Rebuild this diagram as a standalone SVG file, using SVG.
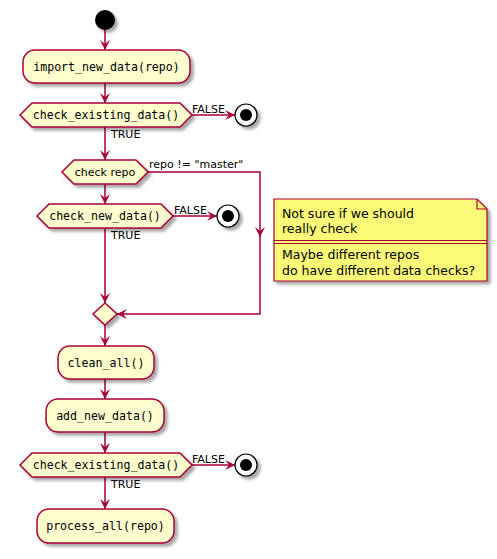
<svg xmlns="http://www.w3.org/2000/svg" width="497" height="559" viewBox="0 0 497 559">
<defs>
<filter id="sh" x="-20%" y="-20%" width="150%" height="160%"><feDropShadow dx="3" dy="3" stdDeviation="1.6" flood-color="#000" flood-opacity="0.35"/></filter>
<marker id="ah" markerUnits="userSpaceOnUse" markerWidth="12" markerHeight="12" refX="10" refY="5" orient="auto"><path d="M0,0 L10,5 L0,10 L4,5 Z" fill="#A80036"/></marker>
</defs>
<style>
.n{fill:#FEFECE;stroke:#A80036;stroke-width:1.5;filter:url(#sh)}
.m{font-family:"DejaVu Sans Mono",monospace;font-size:11.6px;fill:#000;text-anchor:middle}
.s{font-family:"DejaVu Sans",sans-serif;font-size:11px;fill:#000}
.c{fill:none;stroke:#A80036;stroke-width:1.5}
.nt{font-family:"DejaVu Sans",sans-serif;font-size:12.5px;fill:#000}
</style>
<rect width="497" height="559" fill="#fff"/>
<g id="connectors">
<path class="c" d="M105,30 V50" marker-end="url(#ah)"/>
<path class="c" d="M105,83 V103" marker-end="url(#ah)"/>
<path class="c" d="M192,115 H235" marker-end="url(#ah)"/>
<path class="c" d="M105,127 V160" marker-end="url(#ah)"/>
<path class="c" d="M148,172 H260 V237"  marker-end="url(#ah)"/>
<path class="c" d="M260,236 V314 H117" marker-end="url(#ah)"/>
<path class="c" d="M105,184 V204" marker-end="url(#ah)"/>
<path class="c" d="M173,216 H217" marker-end="url(#ah)"/>
<path class="c" d="M105,228 V303" marker-end="url(#ah)"/>
<path class="c" d="M105,325 V346" marker-end="url(#ah)"/>
<path class="c" d="M105,379 V399" marker-end="url(#ah)"/>
<path class="c" d="M105,432 V453" marker-end="url(#ah)"/>
<path class="c" d="M192,465 H235" marker-end="url(#ah)"/>
<path class="c" d="M105,477 V509" marker-end="url(#ah)"/>
<text class="s" x="192" y="113">FALSE</text>
<text class="s" x="111" y="138">TRUE</text>
<text class="s" x="149" y="168">repo != "master"</text>
<text class="s" x="174" y="214">FALSE</text>
<text class="s" x="111" y="239">TRUE</text>
<text class="s" x="192" y="463">FALSE</text>
<text class="s" x="111" y="488">TRUE</text>
</g>
<g id="start"><circle cx="105" cy="20" r="10" fill="#000" filter="url(#sh)"/></g>
<g id="import"><rect class="n" x="23" y="50" width="167" height="33" rx="12"/><text class="m" x="106.5" y="70.5">import_new_data(repo)</text></g>
<g id="check1"><polygon class="n" points="20,115 32,103 180,103 192,115 180,127 32,127"/><text class="m" x="106" y="119">check_existing_data()</text></g>
<g id="end1"><circle cx="246" cy="115" r="11" fill="#fff" stroke="#000" stroke-width="1.2" filter="url(#sh)"/><circle cx="246" cy="115" r="6" fill="#000"/></g>
<g id="checkrepo"><polygon class="n" points="62,172 74,160 136,160 148,172 136,184 74,184"/><text class="s" x="105" y="176" text-anchor="middle">check repo</text></g>
<g id="checknew"><polygon class="n" points="37,216 49,204 161,204 173,216 161,228 49,228"/><text class="m" x="105" y="220">check_new_data()</text></g>
<g id="end2"><circle cx="228" cy="216" r="11" fill="#fff" stroke="#000" stroke-width="1.2" filter="url(#sh)"/><circle cx="228" cy="216" r="6" fill="#000"/></g>
<g id="note">
<polygon points="274,199 477,199 487,209 487,281 274,281" fill="#FBFB77" stroke="#A80036" stroke-width="1.2" filter="url(#sh)"/>
<path d="M477,199 V209 H487" fill="none" stroke="#A80036" stroke-width="1.2"/>
<path d="M274,240.5 H487 M274,243.5 H487" stroke="#A80036" stroke-width="1.2"/>
<text class="nt" x="282" y="218">Not sure if we should</text>
<text class="nt" x="282" y="233">really check</text>
<text class="nt" x="282" y="259">Maybe different repos</text>
<text class="nt" x="282" y="275">do have different data checks?</text>
</g>
<g id="merge"><polygon class="n" points="105,303 117,314 105,325 93,314"/></g>
<g id="clean"><rect class="n" x="58" y="346" width="96" height="33" rx="12"/><text class="m" x="106" y="366.5">clean_all()</text></g>
<g id="addnew"><rect class="n" x="46" y="399" width="118" height="33" rx="12"/><text class="m" x="105" y="419.5">add_new_data()</text></g>
<g id="check2"><polygon class="n" points="20,465 32,453 180,453 192,465 180,477 32,477"/><text class="m" x="106" y="469">check_existing_data()</text></g>
<g id="end3"><circle cx="246" cy="465" r="11" fill="#fff" stroke="#000" stroke-width="1.2" filter="url(#sh)"/><circle cx="246" cy="465" r="6" fill="#000"/></g>
<g id="process"><rect class="n" x="37" y="509" width="137" height="34" rx="12"/><text class="m" x="105.5" y="530">process_all(repo)</text></g>
</svg>
